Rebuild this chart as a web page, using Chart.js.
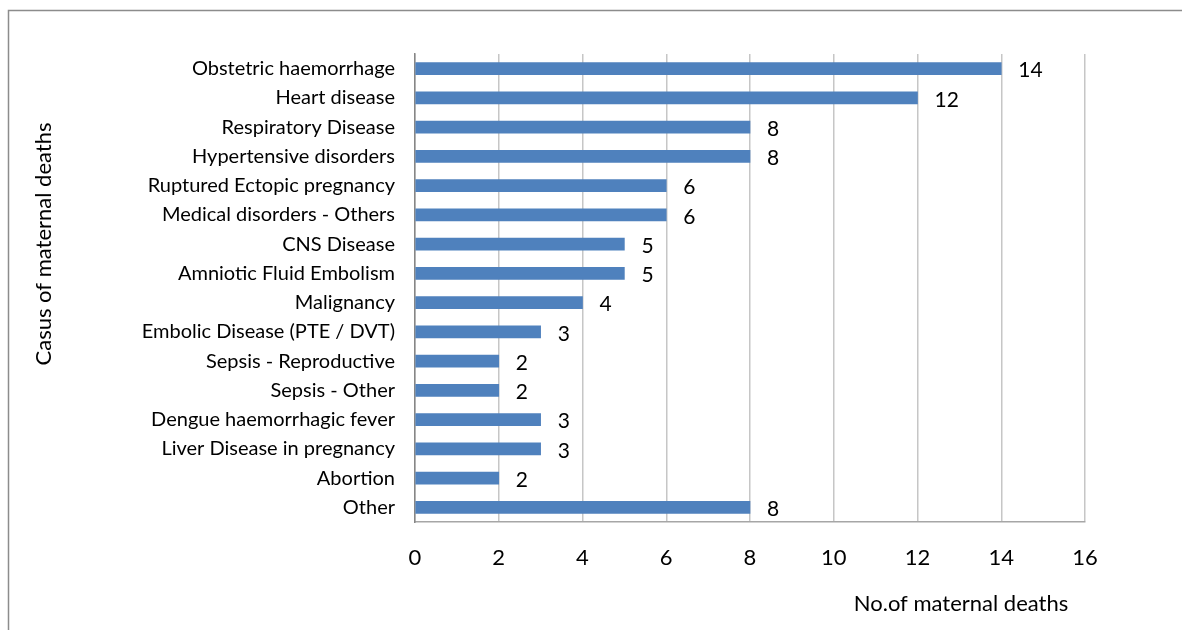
<!DOCTYPE html>
<html>
<head>
<meta charset="utf-8">
<script src="https://cdn.jsdelivr.net/npm/chart.js@4.4.0/dist/chart.umd.min.js"></script>
<style>
  html, body { margin: 0; padding: 0; background: #fff; }
  #wrap { position: relative; width: 1182px; height: 630px; }
</style>
</head>
<body>
<div id="wrap"><canvas id="chart"></canvas></div>
<script>
// Data
const causes = [
    'Obstetric haemorrhage',
    'Heart disease',
    'Respiratory Disease',
    'Hypertensive disorders',
    'Ruptured Ectopic pregnancy',
    'Medical disorders - Others',
    'CNS Disease',
    'Amniotic Fluid Embolism',
    'Malignancy',
    'Embolic Disease (PTE / DVT)',
    'Sepsis - Reproductive',
    'Sepsis - Other',
    'Dengue haemorrhagic fever',
    'Liver Disease in pregnancy',
    'Abortion',
    'Other'
];
const deaths = [14, 12, 8, 8, 6, 6, 5, 5, 4, 3, 2, 2, 3, 3, 2, 8];
const xTicks = [0, 2, 4, 6, 8, 10, 12, 14, 16];

const xTitle = 'No.of maternal deaths';
const yTitle = 'Casus of maternal deaths';

const FONT = 'Lato, "Open Sans", sans-serif';

// Outer frame, axis titles and value labels
const extras = {
    id: 'extras',
    beforeDraw(chart) {
        const ctx = chart.ctx;
        ctx.save();
        ctx.strokeStyle = '#8c8c8c';
        ctx.lineWidth = 1.5;
        ctx.beginPath();
        ctx.moveTo(8.5, 630);
        ctx.lineTo(8.5, 10.5);
        ctx.lineTo(1182, 10.5);
        ctx.stroke();
        ctx.restore();
    },
    afterDraw(chart) {
        const ctx = chart.ctx;
        const area = chart.chartArea;
        ctx.save();
        ctx.fillStyle = '#000';
        ctx.font = '21px ' + FONT;

        // value labels to the right of each bar
        const meta = chart.getDatasetMeta(0);
        ctx.textAlign = 'left';
        ctx.textBaseline = 'middle';
        meta.data.forEach((bar, i) => {
            ctx.fillText(String(deaths[i]), bar.x + 17, bar.y + 2);
        });

        ctx.font = '22px ' + FONT;
        // x axis title, set toward the right like the original
        ctx.textAlign = 'center';
        ctx.fillText(xTitle, area.right - 124, area.bottom + 82);

        // y axis title, rotated
        ctx.translate(44, area.top + 190);
        ctx.rotate(-Math.PI / 2);
        ctx.fillText(yTitle, 0, 0);
        ctx.restore();
    }
};

new Chart(document.getElementById('chart'), {
    type: 'bar',
    data: {
        labels: causes,
        datasets: [{
            data: deaths,
            backgroundColor: '#4F81BD',
            borderWidth: 0,
            barThickness: 12
        }]
    },
    options: {
        indexAxis: 'y',
        responsive: true,
        maintainAspectRatio: false,
        animation: false,
        events: [],
        layout: { padding: { left: 0, top: 54, right: 97, bottom: 0 } },
        plugins: {
            legend: { display: false },
            tooltip: { enabled: false }
        },
        scales: {
            x: {
                min: xTicks[0],
                max: xTicks[xTicks.length - 1],
                afterBuildTicks(scale) {
                    scale.ticks = xTicks.map(v => ({ value: v }));
                },
                afterFit(scale) { scale.height = 108; },
                grid: { color: '#c6c6c6', lineWidth: 1.5, drawTicks: false },
                border: { color: '#a6a6a6', width: 1.5 },
                ticks: {
                    color: '#000',
                    padding: 23,
                    font: { family: FONT, size: 22 },
                    maxRotation: 0
                }
            },
            y: {
                afterFit(scale) { scale.width = 415; },
                grid: { display: false, drawTicks: false },
                border: { color: '#868686', width: 1.5 },
                ticks: {
                    color: '#000',
                    padding: 20,
                    autoSkip: false,
                    font: { family: FONT, size: 20 }
                }
            }
        }
    },
    plugins: [extras]
});
</script>
</body>
</html>
